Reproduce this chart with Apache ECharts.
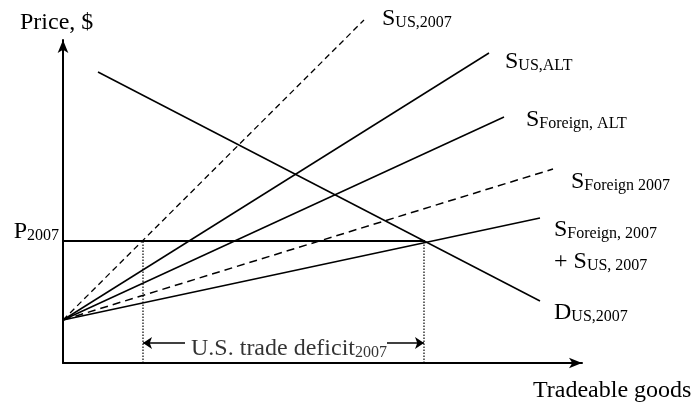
<!DOCTYPE html>
<html>
<head>
<meta charset="utf-8">
<script src="https://cdn.jsdelivr.net/npm/echarts@6/dist/echarts.min.js"></script>
<style>
  html, body { margin: 0; padding: 0; background: #fff; }
  #chart { width: 691px; height: 406px; }
</style>
</head>
<body>
<div id="chart"></div>
<script>
// values in chart units (x: quantity, y: price)
const xMax = 519;
const yMax = 323;

const sUs2007 = [[0, 43], [301, 343]];
const sUsAlt = [[0, 43], [426, 310]];
const sForeignAlt = [[0, 43], [441, 246]];
const sForeign2007 = [[0, 43], [490, 194]];
const sSum2007 = [[0, 43], [477, 145]];
const dUs2007 = [[35, 291], [477, 62]];
const p2007 = [[0, 122], [362, 122]];
const deficitLeft = [[80, 0], [80, 122]];
const deficitRight = [[361, 0], [361, 122]];
const arrowLeft = [[122, 20], [80, 20]];
const arrowRight = [[324, 20], [361, 20]];
const deficitLabelAt = [[226, 16]];

const font = "'Liberation Serif', 'DejaVu Serif', serif";

function rich(mainLh, subLh) {
  return {
    m: { fontSize: 24, fontFamily: font, color: "#000", verticalAlign: "bottom", lineHeight: mainLh },
    s: { fontSize: 16, fontFamily: font, color: "#000", verticalAlign: "bottom", lineHeight: subLh }
  };
}

function curve(name, data, lineStyle, labelText, offset, lh) {
  return {
    name: name,
    type: "line",
    data: data,
    symbol: "none",
    silent: true,
    clip: false,
    lineStyle: Object.assign({ color: "#000", width: 1.5 }, lineStyle),
    endLabel: {
      show: true,
      distance: 0,
      offset: offset,
      formatter: labelText,
      rich: rich(lh ? lh[0] : 28, lh ? lh[1] : 14)
    }
  };
}

var myChart = echarts.init(document.getElementById("chart"), null, { renderer: "canvas" });

let option = {
  animation: false,
  backgroundColor: "#fff",
  grid: { left: 63, top: 40, width: 519, height: 323 },
  xAxis: {
    type: "value",
    min: 0,
    max: xMax,
    axisLine: {
      symbol: ["none", "arrow"],
      symbolSize: [8, 13],
      lineStyle: { color: "#000", width: 2 }
    },
    axisTick: { show: false },
    axisLabel: { show: false },
    splitLine: { show: false }
  },
  yAxis: {
    type: "value",
    min: 0,
    max: yMax,
    axisLine: {
      show: true,
      symbol: ["none", "arrow"],
      symbolSize: [8, 13],
      lineStyle: { color: "#000", width: 2 }
    },
    axisTick: { show: false },
    axisLabel: { show: false },
    splitLine: { show: false }
  },
  graphic: [
    {
      type: "text",
      left: 20,
      top: 11,
      style: { text: "Price, $", font: "24px " + font, fill: "#000" }
    },
    {
      type: "text",
      left: 533,
      top: 379,
      style: { text: "Tradeable goods", font: "24px " + font, fill: "#000" }
    }
  ],
  series: [
    curve("S_US_2007", sUs2007, { width: 1.3, type: [6, 4] }, "{m|S}{s|US,2007}", [18, -3]),
    curve("S_US_ALT", sUsAlt, {}, "{m|S}{s|US,ALT}", [16, 7]),
    curve("S_Foreign_ALT", sForeignAlt, {}, "{m|S}{s|Foreign, ALT}", [22, 1]),
    curve("S_Foreign_2007", sForeign2007, { type: [8, 5] }, "{m|S}{s|Foreign 2007}", [18, 11]),
    curve("S_sum", sSum2007, {}, "{m|S}{s|Foreign, 2007}\n{m|+ S}{s|US, 2007}", [14, 24], [32, 18]),
    curve("D_US_2007", dUs2007, {}, "{m|D}{s|US,2007}", [14, 10]),
    {
      name: "P2007",
      type: "line",
      data: p2007,
      symbol: "circle",
      symbolSize: 0,
      showSymbol: true,
      silent: true,
      lineStyle: { color: "#000", width: 2 },
      label: {
        show: true,
        position: "left",
        distance: 4,
        offset: [0, -11],
        formatter: function (p) {
          return p.dataIndex === 0 ? "{m|P}{s|2007}" : "";
        },
        rich: rich(28, 14)
      }
    },
    {
      type: "line",
      data: deficitLeft,
      symbol: "none",
      silent: true,
      lineStyle: { color: "#000", width: 1.2, type: [1.5, 1.5] }
    },
    {
      type: "line",
      data: deficitRight,
      symbol: "none",
      silent: true,
      lineStyle: { color: "#000", width: 1.2, type: [1.5, 1.5] }
    },
    {
      type: "lines",
      coordinateSystem: "cartesian2d",
      silent: true,
      symbol: ["none", "arrow"],
      symbolSize: 9,
      lineStyle: { color: "#000", width: 1.5, opacity: 1 },
      data: [{ coords: arrowLeft }, { coords: arrowRight }]
    },
    {
      type: "scatter",
      data: deficitLabelAt,
      symbolSize: 0,
      silent: true,
      label: {
        show: true,
        position: "inside",
        formatter: "{m|U.S. trade deficit}{s|2007}",
        rich: rich(28, 14)
      }
    }
  ]
};
myChart.setOption(option);
</script>
</body>
</html>
